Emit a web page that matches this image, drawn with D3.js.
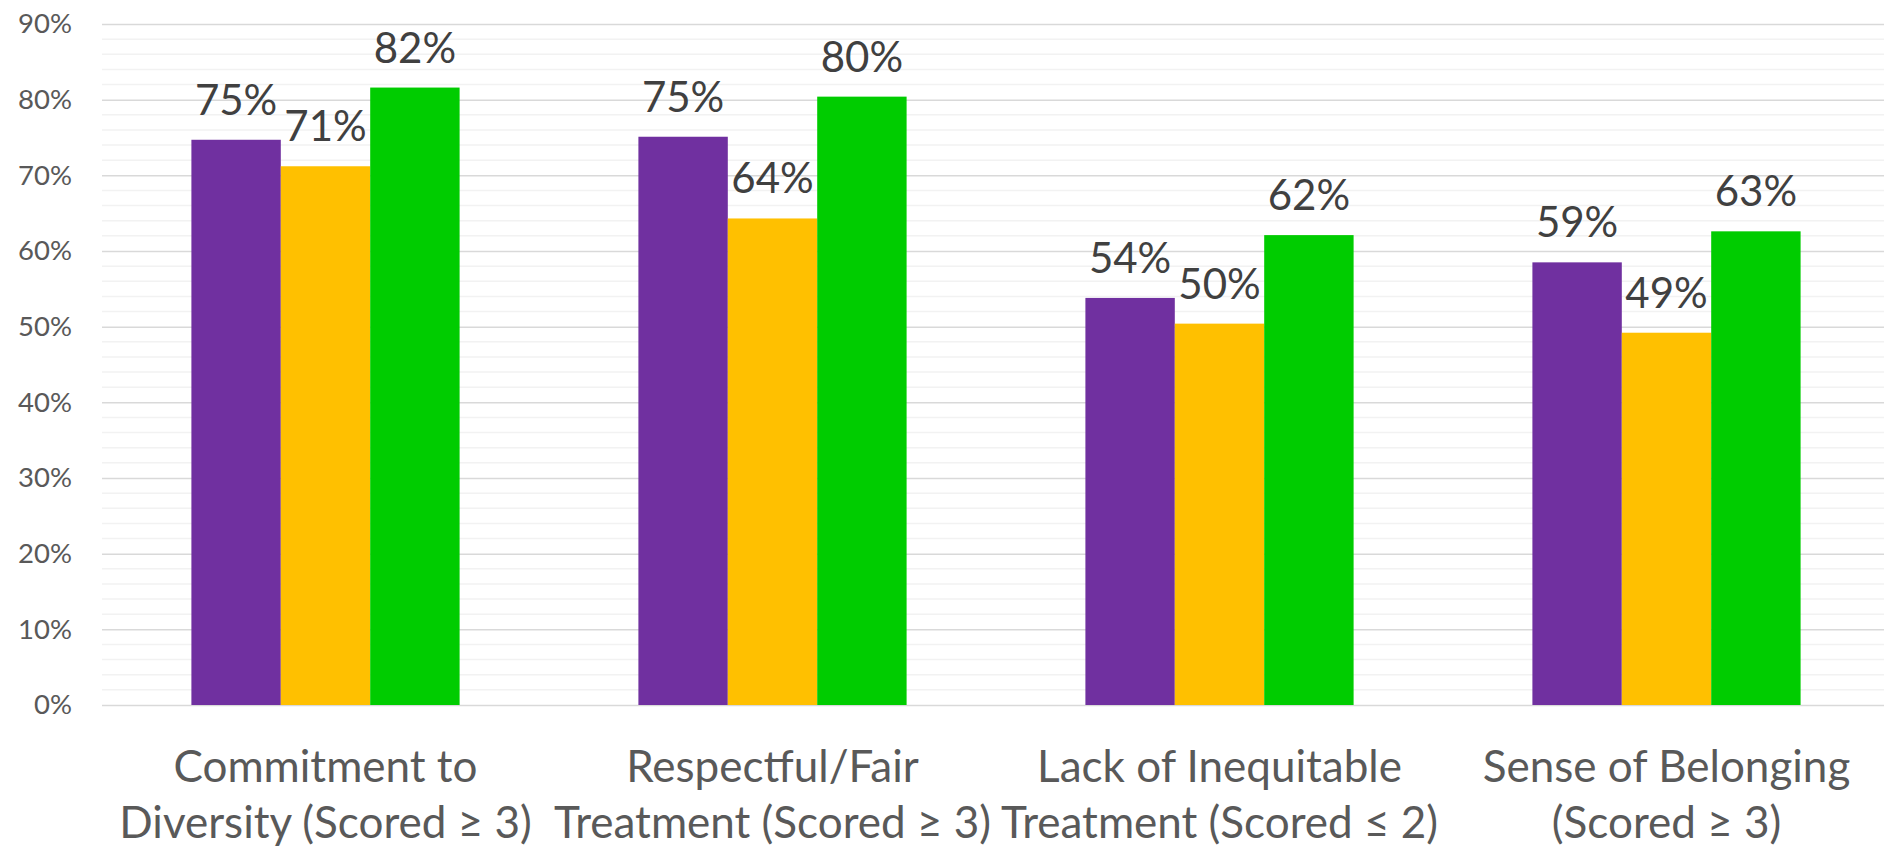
<!DOCTYPE html>
<html>
<head>
<meta charset="utf-8">
<script src="https://cdn.jsdelivr.net/npm/d3@7"></script>
<style>
  html, body { margin: 0; padding: 0; background: #fff; }
  svg { display: block; font-family: Lato, "Open Sans", sans-serif; }
</style>
</head>
<body>
<svg id="chart" width="1884" height="849"></svg>
<script>
// Survey measures shown along the x axis (two lines each)
const categories = [
  ["Commitment to", "Diversity (Scored \u2265 3)"],
  ["Respectful/Fair", "Treatment (Scored \u2265 3)"],
  ["Lack of Inequitable", "Treatment (Scored \u2264 2)"],
  ["Sense of Belonging", "(Scored \u2265 3)"]
];

// Share of respondents per group, one array per series
const seriesPurple = [0.747, 0.751, 0.538, 0.585];
const seriesYellow = [0.712, 0.643, 0.504, 0.492];
const seriesGreen  = [0.816, 0.804, 0.621, 0.626];

const seriesNames  = ["purple", "yellow", "green"];
const seriesColors = ["#7030A0", "#FFC000", "#00CC00"];

const yTicks      = [0, 0.1, 0.2, 0.3, 0.4, 0.5, 0.6, 0.7, 0.8, 0.9];
const yMinorTicks = d3.range(0, 0.9001, 0.02);

const series = [seriesPurple, seriesYellow, seriesGreen];

const svg = d3.select("#chart");
const W = 1884, H = 849;
const plot = { left: 102, right: 1890, top: 24, bottom: 705 };

const x0 = d3.scaleBand()
  .domain(d3.range(categories.length))
  .range([plot.left, plot.right])
  .paddingInner(0.4)
  .paddingOuter(0.2);

const x1 = d3.scaleBand()
  .domain(seriesNames)
  .range([0, x0.bandwidth()]);

const y = d3.scaleLinear()
  .domain([0, 0.9])
  .range([plot.bottom, plot.top]);

const pct = d3.format(".0%");

// Minor gridlines every 2%
svg.append("g")
  .selectAll("line")
  .data(yMinorTicks.filter(v => Math.round(v * 100) % 10 !== 0))
  .join("line")
  .attr("x1", plot.left).attr("x2", W)
  .attr("y1", d => y(d)).attr("y2", d => y(d))
  .attr("stroke", "#f2f2f2")
  .attr("stroke-width", 1.5);

// Major gridlines and y-axis labels
const yAxis = d3.axisLeft(y)
  .tickValues(yTicks)
  .tickFormat(pct)
  .tickSize(-(W - plot.left))
  .tickPadding(30);

const gy = svg.append("g")
  .attr("transform", `translate(${plot.left},0)`)
  .call(yAxis);
gy.select(".domain").remove();
gy.selectAll(".tick line")
  .attr("stroke", "#d9d9d9")
  .attr("stroke-width", 1.5);
gy.selectAll(".tick text")
  .attr("fill", "#595959")
  .style("font-size", "27.5px")
  .style("font-family", "Lato, 'Open Sans', sans-serif");

// Bars
const groups = svg.append("g")
  .selectAll("g")
  .data(categories.map((c, i) => i))
  .join("g")
  .attr("transform", i => `translate(${x0(i)},0)`);

groups.selectAll("rect")
  .data(i => series.map((s, k) => ({ key: seriesNames[k], value: s[i], color: seriesColors[k] })))
  .join("rect")
  .attr("x", d => x1(d.key))
  .attr("width", x1.bandwidth())
  .attr("y", d => y(d.value))
  .attr("height", d => y(0) - y(d.value))
  .attr("fill", d => d.color);

// Value labels above bars
groups.selectAll("text.value")
  .data(i => series.map((s, k) => ({ key: seriesNames[k], value: s[i] })))
  .join("text")
  .attr("class", "value")
  .attr("x", d => x1(d.key) + x1.bandwidth() / 2)
  .attr("y", d => y(d.value) - 25)
  .attr("text-anchor", "middle")
  .attr("fill", "#404040")
  .style("font-size", "42px")
  .text(d => pct(d.value));

// Category labels
const xAxis = svg.append("g");
const catLabels = xAxis.selectAll("text")
  .data(categories)
  .join("text")
  .attr("text-anchor", "middle")
  .attr("fill", "#595959")
  .style("font-size", "44px")
  .attr("transform", (d, i) => `translate(${x0(i) + x0.bandwidth() / 2},0)`);

catLabels.selectAll("tspan")
  .data(d => d)
  .join("tspan")
  .attr("x", 0)
  .attr("y", (d, j) => j === 0 ? 781.7 : 838)
  .text(d => d);
</script>
</body>
</html>
